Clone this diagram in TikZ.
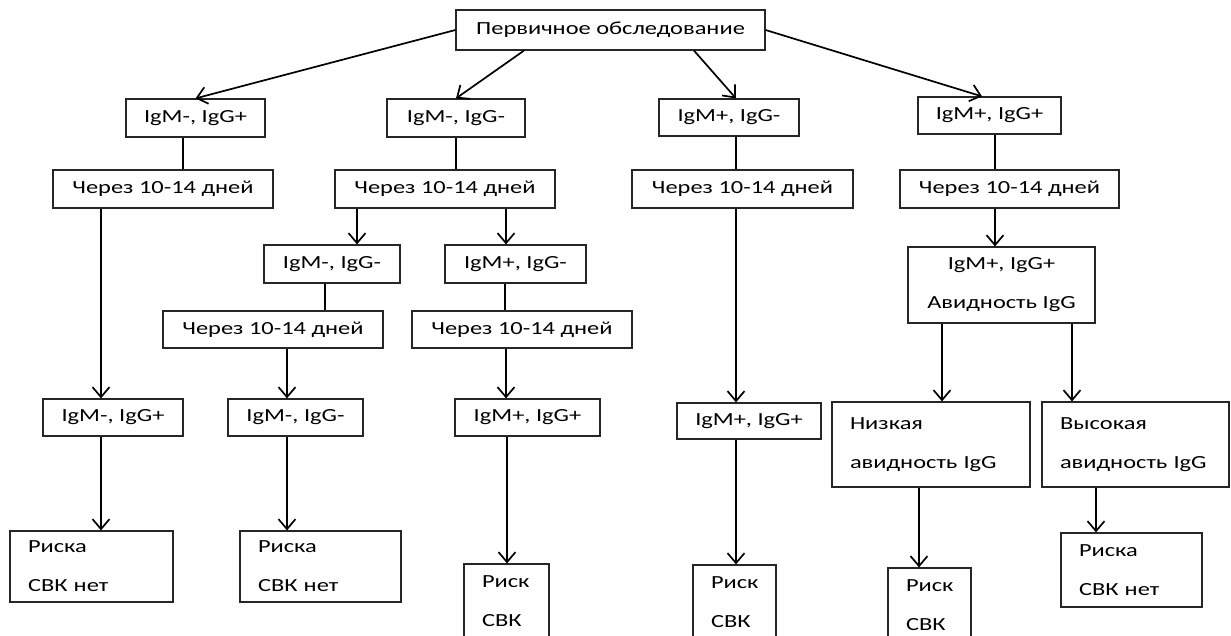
\documentclass[tikz,border=0pt]{standalone}
\usepackage{fontspec}
\setmainfont{Carlito}[FakeStretch=1.32]
\usetikzlibrary{arrows.meta}
\begin{document}
\begin{tikzpicture}[x=1pt,y=-1pt]
\tikzset{
 box/.style={draw=black!85, line width=1.2pt, inner sep=0pt, align=center,
   font=\fontsize{18.5}{39}\selectfont, text=black},
 lbox/.style={box, align=left, inner xsep=18pt, inner ysep=0pt},
 link/.style={line width=1.7pt, black},
 arr/.style={link, -{Straight Barb[length=10pt,width=17pt]}},
}
\useasboundingbox (0,0) rectangle (1231,636);
% level 0
\node[box, minimum width=309pt, minimum height=40pt] (top) at (610.5,30) {Первичное обследование};
% level 1
\node[box, minimum width=139pt, minimum height=38pt] (A1) at (195.5,118) {IgM-, IgG+};
\node[box, minimum width=138pt, minimum height=38pt] (A2) at (456,118) {IgM-, IgG-};
\node[box, minimum width=140pt, minimum height=37pt] (A3) at (729,117.5) {IgM+, IgG-};
\node[box, minimum width=143pt, minimum height=37pt] (A4) at (989.5,115.5) {IgM+, IgG+};
% level 2
\node[box, minimum width=220pt, minimum height=38pt] (B1) at (163,189) {Через 10-14 дней};
\node[box, minimum width=220pt, minimum height=38pt] (B2) at (445,189) {Через 10-14 дней};
\node[box, minimum width=221pt, minimum height=38pt] (B3) at (742.5,189) {Через 10-14 дней};
\node[box, minimum width=219pt, minimum height=38pt] (B4) at (1009.5,189) {Через 10-14 дней};
% level 3
\node[box, minimum width=136pt, minimum height=38pt] (C2a) at (332,264) {IgM-, IgG-};
\node[box, minimum width=141pt, minimum height=38pt] (C2b) at (515.5,264) {IgM+, IgG-};
\node[box, minimum width=187pt, minimum height=76pt] (C4) at (1001.5,285) {IgM+, IgG+\\Авидность IgG};
% level 4
\node[box, minimum width=220pt, minimum height=37pt] (D2a) at (273,329.5) {Через 10-14 дней};
\node[box, minimum width=220pt, minimum height=37pt] (D2b) at (522,329.5) {Через 10-14 дней};
% level 5
\node[box, minimum width=140pt, minimum height=37pt] (E1) at (113,417.5) {IgM-, IgG+};
\node[box, minimum width=135pt, minimum height=37pt] (E2a) at (295.5,417.5) {IgM-, IgG-};
\node[box, minimum width=145pt, minimum height=37pt] (E2b) at (527.5,417.5) {IgM+, IgG+};
\node[box, minimum width=144pt, minimum height=36pt] (E3) at (749,421) {IgM+, IgG+};
\node[lbox, text width=162pt, minimum height=85pt] (E4a) at (931,444.5) {Низкая\\авидность IgG};
\node[lbox, text width=151pt, minimum height=85pt] (E4b) at (1135.5,444.5) {Высокая\\авидность IgG};
% level 6
\node[lbox, text width=127pt, minimum height=71pt] (F1) at (91.5,566.5) {Риска\\СВК нет};
\node[lbox, text width=125pt, minimum height=71pt] (F2a) at (320.5,566.5) {Риска\\СВК нет};
\node[lbox, text width=49pt, minimum height=74pt] (F2b) at (506.5,601) {Риск\\СВК};
\node[lbox, text width=47pt, minimum height=75pt] (F3) at (734.5,602.5) {Риск\\СВК};
\node[lbox, text width=47pt, minimum height=74pt] (F4a) at (929.5,605) {Риск\\СВК};
\node[lbox, text width=105pt, minimum height=74pt] (F4b) at (1131.5,570) {Риска\\СВК нет};
% connectors from the top box
\draw[arr] (top.west) -- (A1.north);
\draw[arr] ([xshift=-86.5pt]top.south) -- (A2.north);
\draw[arr] ([xshift=83.5pt]top.south) -- ([xshift=7pt]A3.north);
\draw[arr] (top.east) -- ([xshift=-7.5pt]A4.north);
% plain links
\draw[link] (A1.south -| 183,0) -- (B1.north -| 183,0);
\draw[link] (A2.south -| 456,0) -- (B2.north -| 456,0);
\draw[link] (A3.south -| 736,0) -- (B3.north -| 736,0);
\draw[link] (A4.south -| 995,0) -- (B4.north -| 995,0);
\draw[link] (C2a.south -| 325,0) -- (D2a.north -| 325,0);
\draw[link] (C2b.south -| 505,0) -- (D2b.north -| 505,0);
% arrows
\draw[arr] (B1.south -| 101,0) -- (E1.north -| 101,0);
\draw[arr] (B2.south -| 357,0) -- (C2a.north -| 357,0);
\draw[arr] (B2.south -| 506,0) -- (C2b.north -| 506,0);
\draw[arr] (D2a.south -| 287,0) -- (E2a.north -| 287,0);
\draw[arr] (D2b.south -| 506,0) -- (E2b.north -| 506,0);
\draw[arr] (B3.south -| 736,0) -- (E3.north -| 736,0);
\draw[arr] (B4.south -| 995,0) -- (C4.north -| 995,0);
\draw[arr] (C4.south -| 942,0) -- (E4a.north -| 942,0);
\draw[arr] (C4.south -| 1072,0) -- (E4b.north -| 1072,0);
\draw[arr] (E1.south -| 101,0) -- (F1.north -| 101,0);
\draw[arr] (E2a.south -| 287,0) -- (F2a.north -| 287,0);
\draw[arr] (E2b.south -| 507,0) -- (F2b.north -| 507,0);
\draw[arr] (E3.south -| 736,0) -- (F3.north -| 736,0);
\draw[arr] (E4a.south -| 919,0) -- (F4a.north -| 919,0);
\draw[arr] (E4b.south -| 1096,0) -- (F4b.north -| 1096,0);
\end{tikzpicture}
\end{document}
